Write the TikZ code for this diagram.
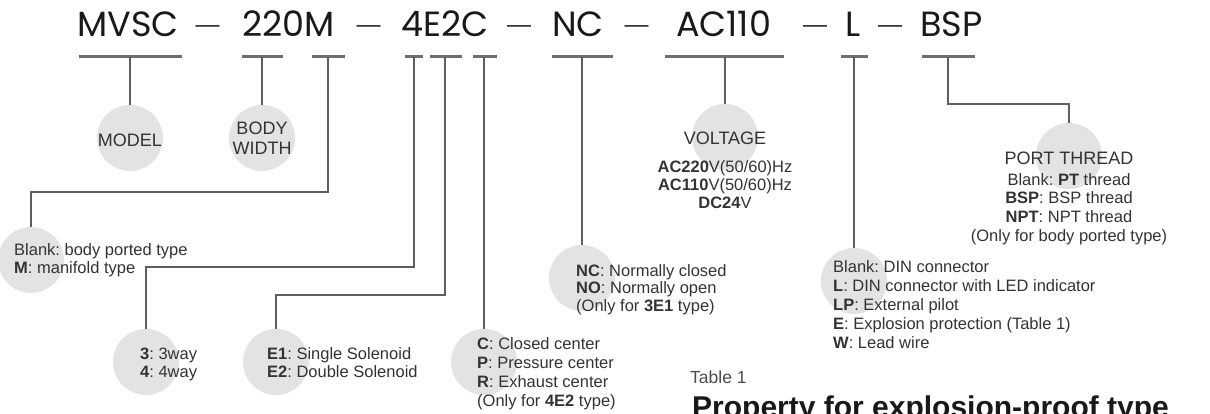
\documentclass[tikz,border=0pt]{standalone}
\usepackage{fontspec}
\setmainfont{Liberation Sans}
\newfontfamily\headfont{Poppins}
\usepackage{xcolor}
\usetikzlibrary{positioning}
\definecolor{circgray}{HTML}{E3E3E3}
\definecolor{linegray}{HTML}{5F5F5F}
\definecolor{bargray}{HTML}{6E6E6E}
\definecolor{txtgray}{HTML}{333333}
\newcommand{\kw}[1]{\textbf{#1}}
\frenchspacing

\begin{document}
\begin{tikzpicture}[
    x=1pt, y=-1pt,
    circ/.style ={circle, fill=circgray, minimum size=66pt, inner sep=0pt},
    code/.style ={font=\headfont\fontsize{35}{40}\selectfont, inner sep=0pt, anchor=base, text=black!90},
    dashsep/.style={font=\fontsize{24}{28}\selectfont, inner sep=0pt, anchor=base, text=black!85},
    lbl/.style  ={font=\fontsize{18}{20}\selectfont, text=txtgray, inner sep=0pt, align=center, anchor=base},
    desc/.style ={font=\fontsize{16.5}{17.5}\selectfont, text=txtgray, inner sep=0pt, align=left, anchor=base west},
    cdesc/.style={font=\fontsize{16.5}{18}\selectfont, text=txtgray, inner sep=0pt, align=center, anchor=base},
    bar/.style  ={draw=bargray, line width=3pt},
    link/.style ={draw=linegray, line width=2pt}
]
\useasboundingbox (0,0) rectangle (1210,414);

% Circles (drawn first, text sits on top)
\node[circ] (model) at (130,138)  {};
\node[circ] (body)  at (262,138)  {};
\node[circ] (blank) at (31,260)   {};
\node[circ] (ways)  at (146,362)  {};
\node[circ] (sol)   at (276,362)  {};
\node[circ] (ctr)   at (484,362)  {};
\node[circ] (nc)    at (582,278)  {};
\node[circ] (volt)  at (725,137)  {};
\node[circ] (lcon)  at (854,281)  {};
\node[circ] (port)  at (1069,156) {};

% Model code
\node[code] (mvsc)  at (128,37)   {MVSC};
\node[dashsep] (d1) at (207.5,33) {—};
\node[code] (width) at (288.5,37) {220M};
\node[dashsep] (d2) at (368.5,33) {—};
\node[code] (valve) at (445,37)   {4E2C};
\node[dashsep] (d3) at (519,33)   {—};
\node[code] (norm)  at (578,37)   {NC};
\node[dashsep] (d4) at (636.5,33) {—};
\node[code] (ac)    at (723.5,37) {AC110};
\node[dashsep] (d5) at (815,33)   {—};
\node[code] (opt)   at (853.5,37) {L};
\node[dashsep] (d6) at (890,33)   {—};
\node[code] (bsp)   at (951.5,37) {BSP};

% Bars under the code
\draw[bar] (79,57)  -- (182,57);
\draw[bar] (242,57) -- (283,57);
\draw[bar] (312,57) -- (345,57);
\draw[bar] (405,57) -- (423,57);
\draw[bar] (430,57) -- (462,57);
\draw[bar] (473,57) -- (497,57);
\draw[bar] (552,57) -- (613,57);
\draw[bar] (665,57) -- (784,57);
\draw[bar] (841,57) -- (868,57);
\draw[bar] (922,57) -- (975,57);

\coordinate (s-mvsc) at (130,57);
\coordinate (s-220)  at (262,57);
\coordinate (s-m)    at (328,57);
\coordinate (s-4)    at (414,57);
\coordinate (s-e)    at (445,57);
\coordinate (s-c)    at (484,57);
\coordinate (s-nc)   at (582,57);
\coordinate (s-ac)   at (725,57);
\coordinate (s-l)    at (854,57);
\coordinate (s-bsp)  at (948,57);

% Connectors
\draw[link] (s-mvsc) -- (model.north);
\draw[link] (s-220)  -- (body.north);
\draw[link] (s-m)    -- ++(0,135) -| (blank.north);
\draw[link] (s-4)    -- ++(0,210) -| (ways.north);
\draw[link] (s-e)    -- ++(0,238) -| (sol.north);
\draw[link] (s-c)    -- (ctr.north);
\draw[link] (s-nc)   -- (nc.north);
\draw[link] (s-ac)   -- (volt.north);
\draw[link] (s-l)    -- (lcon.north);
\draw[link] (s-bsp)  -- ++(0,47) -| (port.north);

% Labels (base = baseline of the last line)
\node[lbl] (model-t) at (130,146.5) {MODEL};
\node[lbl] (body-t) at (262,154.5) {BODY\\WIDTH};
\node[desc] (blank-t) at (14,273) {Blank: body ported type\\\kw{M}: manifold type};
\node[desc] (ways-t)  at (140,377) {\kw{3}: 3way\\\kw{4}: 4way};
\node[desc] (sol-t)   at (267,377) {\kw{E1}: Single Solenoid\\\kw{E2}: Double Solenoid};
\node[desc, font=\fontsize{16.5}{19}\selectfont] (ctr-t) at (477,406)
  {\kw{C}: Closed center\\\kw{P}: Pressure center\\\kw{R}: Exhaust center\\(Only for \kw{4E2} type)};
\node[desc] (nc-t) at (576,311)
  {\kw{NC}: Normally closed\\\kw{NO}: Normally open\\(Only for \kw{3E1} type)};
\node[lbl] (volt-t) at (725,144.5) {VOLTAGE};
\node[cdesc] (volt-l) at (725,209)
  {\kw{AC220}V(50/60)Hz\\\kw{AC110}V(50/60)Hz\\\kw{DC24}V};
\node[desc, font=\fontsize{16.5}{19}\selectfont] (lcon-t) at (833,348)
  {Blank: DIN connector\\\kw{L}: DIN connector with LED indicator\\\kw{LP}: External pilot\\\kw{E}: Explosion protection (Table 1)\\\kw{W}: Lead wire};
\node[lbl] (port-t) at (1069,164.5) {PORT THREAD};
\node[cdesc, font=\fontsize{16.5}{18.8}\selectfont] (port-l) at (1069,241.4)
  {Blank: \kw{PT} thread\\\kw{BSP}: BSP thread\\\kw{NPT}: NPT thread\\(Only for body ported type)};

% Table caption
\node[desc, font=\fontsize{17.5}{20}\selectfont, text=black!70] (tab) at (690,383) {Table 1};
\node[desc, font=\bfseries\fontsize{30}{34}\selectfont, text=black!90] (tab-title) at (692,417)
  {Property for explosion-proof type};
\end{tikzpicture}
\end{document}
